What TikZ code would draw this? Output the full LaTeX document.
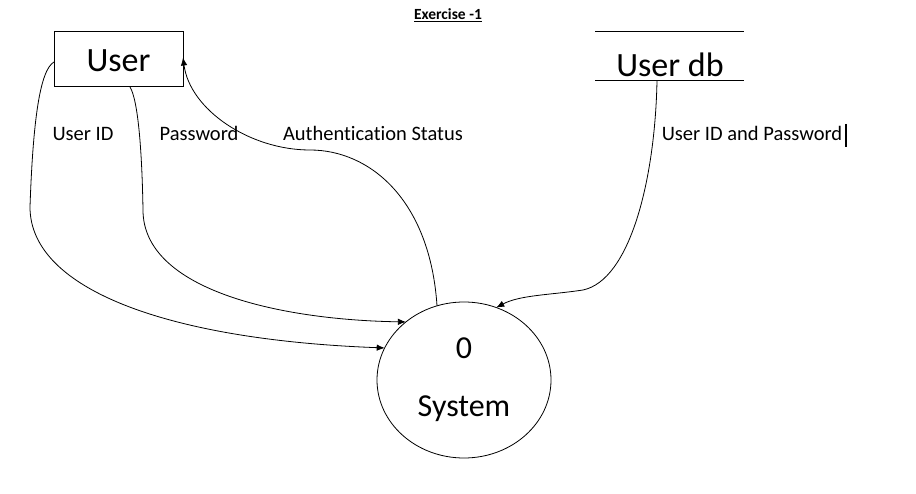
\documentclass[tikz,border=0pt]{standalone}
\usepackage{fontspec}
\setmainfont{Carlito}[Ligatures={NoCommon}]
\usetikzlibrary{arrows.meta,shapes.geometric}
\begin{document}
\begin{tikzpicture}[x=1pt,y=-1pt,
  flow/.style={draw=black,line width=0.8pt,-{Latex[length=8pt,width=6.5pt]}},
  flowlabel/.style={anchor=base,inner sep=0pt,font=\fontsize{20.5}{24}\selectfont},
  bigtext/.style={anchor=base,inner sep=0pt,font=\fontsize{34}{40}\selectfont},
  entity/.style={draw=black,line width=1pt,rectangle,minimum width=129pt,minimum height=55pt,outer sep=0pt,inner sep=0pt},
  store/.style={rectangle,minimum width=149pt,minimum height=49pt,outer sep=0pt,inner sep=0pt},
  storeline/.style={draw=black,line width=1pt},
  process/.style={draw=black,line width=0.8pt,ellipse,minimum width=174pt,minimum height=156pt,outer sep=0pt,inner sep=0pt}]
\useasboundingbox[fill=white] (0,0) rectangle (916,494);

% title
\node[anchor=base,inner sep=0pt,font=\fontsize{15.5}{18}\selectfont\bfseries] (title) at (448,20) {\underline{Exercise -1}};

% entities
\node[entity] (user) at (118.5,59.5) {};
\node[bigtext] (usertext) at (118.5,72) {User};

\node[store] (db) at (669.5,56.5) {};
\draw[storeline] (db.north west) -- (db.north east);
\draw[storeline] (db.south west) -- (db.south east);
\node[bigtext] (dbtext) at (670,77) {User db};

\node[process] (sys) at (464,380) {};
\node[bigtext,font=\fontsize{32}{38}\selectfont] (zero) at (464,359) {0};
\node[bigtext,font=\fontsize{32}{38}\selectfont] (systext) at (464,417) {System};

% connectors
\draw[flow] ([yshift=-2.5pt]user.west) .. controls (40,70) and (33,120) .. (30,207)
  .. controls (30,290) and (170,340) .. (sys.158.6);
\draw[flow] ([xshift=11.5pt]user.south) .. controls (138,100) and (142,150) .. (143,210)
  .. controls (143,290) and (280,320) .. (sys.135);
\draw[flow] (sys.110) .. controls (430,200) and (370,150) .. (310,150)
  .. controls (250,150) and (190,110) .. ([yshift=2pt]user.east);
\draw[flow] ([xshift=-12.5pt]db.south) .. controls (655,180) and (630,280) .. (583,290)
  .. controls (550,295) and (520,295) .. (sys.66.9);

% labels
\node[flowlabel] (l1) at (83,141) {User ID};
\node[flowlabel] (l2) at (199,141) {Password};
\node[flowlabel] (l3) at (373,141) {Authentication Status};
\node[flowlabel] (l4) at (752,141) {User ID and Password};
\draw[line width=1.8pt] (846,124) -- (846,147);
\end{tikzpicture}
\end{document}
